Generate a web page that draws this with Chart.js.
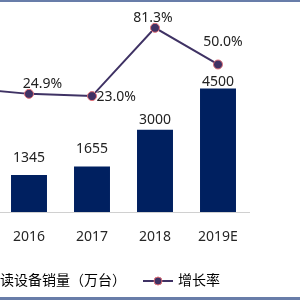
<!DOCTYPE html>
<html lang="zh-CN">
<head>
<meta charset="utf-8">
<title>Chart_Combo</title>
<script src="https://cdn.jsdelivr.net/npm/chart.js@4/dist/chart.umd.min.js"></script>
<style>
    body{margin:0;background:#fff;overflow:hidden;}
    #box{position:relative;width:300px;height:300px;overflow:hidden;background:#fff;}
    #chart-0{position:absolute;left:-127px;top:0;}
    .edge{position:absolute;left:0;width:300px;background:#687da9;}
</style>
</head>
<body>
<div id="box">
    <canvas id="chart-0" width="427" height="300"></canvas>
    <div class="edge" style="top:0;height:2px"></div>
    <div class="edge" style="bottom:0;height:3px"></div>
</div>
<script>
// data (first year sits outside the cropped view)
var years = ['2015', '2016', '2017', '2018', '2019E'];
var sales = [1077, 1345, 1655, 3000, 4500];
var growth = [30.0, 24.9, 23.0, 81.3, 50.0];
var salesName = '阅读设备销量（万台）';
var growthName = '增长率';

// label placement (px, relative to the mark)
var barLabelLift = [15, 17.5, 18, 10, 7];
var lineLabelDx = [0, 13.5, 24.3, -2, 5];
var lineLabelDy = [-12, -10, 1.3, -10, -22];

var navy = '#002060';
var purple = '#3f3264';
var ring = '#e07078';
var fontFamily = '"Noto Sans", "Noto Sans CJK SC", sans-serif';

Chart.defaults.font.family = fontFamily;
Chart.defaults.font.size = 14;

function icon(w, h, drawFn) {
    var c = document.createElement('canvas');
    c.width = w; c.height = h;
    drawFn(c.getContext('2d'));
    return c;
}
var barIcon = icon(26, 12, function(g){ g.fillStyle = navy; g.fillRect(0, 0, 26, 12); });
var lineIcon = icon(30, 10, function(g){
    g.strokeStyle = purple; g.lineWidth = 2;
    g.beginPath(); g.moveTo(0, 5); g.lineTo(30, 5); g.stroke();
    g.beginPath(); g.arc(15, 5, 4, 0, Math.PI * 2);
    g.fillStyle = purple; g.fill();
    g.lineWidth = 1; g.strokeStyle = ring; g.stroke();
});

var valueLabels = {
    id: 'valueLabels',
    afterDatasetsDraw: function(chart) {
        var ctx = chart.ctx;
        ctx.save();
        ctx.font = '14px ' + fontFamily;
        ctx.fillStyle = '#222';
        ctx.textAlign = 'center';
        ctx.textBaseline = 'middle';
        chart.getDatasetMeta(0).data.forEach(function(bar, i) {
            ctx.fillText(String(sales[i]), bar.x, bar.y - barLabelLift[i]);
        });
        chart.getDatasetMeta(1).data.forEach(function(pt, i) {
            ctx.fillText(growth[i].toFixed(1) + '%', pt.x + lineLabelDx[i], pt.y + lineLabelDy[i]);
        });
        ctx.restore();
    }
};

var chart = new Chart('chart-0', {
    type: 'bar',
    data: {
        labels: years,
        datasets: [{
            label: salesName,
            data: sales,
            backgroundColor: navy,
            yAxisID: 'y',
            categoryPercentage: 1,
            barPercentage: 0.571,
            order: 2
        }, {
            type: 'line',
            label: growthName,
            data: growth,
            yAxisID: 'y1',
            borderColor: purple,
            borderWidth: 2,
            pointRadius: 4.5,
            pointBackgroundColor: purple,
            pointBorderColor: ring,
            pointBorderWidth: 1,
            tension: 0,
            order: 1
        }]
    },
    options: {
        responsive: false,
        devicePixelRatio: 1,
        animation: false,
        layout: { padding: { top: 20, bottom: 2, left: 0, right: 0 } },
        plugins: {
            tooltip: { enabled: false },
            legend: {
                position: 'bottom',
                labels: {
                    usePointStyle: true,
                    pointStyleWidth: 26,
                    boxHeight: 14,
                    padding: 19,
                    color: '#222',
                    font: { size: 14 },
                    generateLabels: function() {
                        return [
                            { text: salesName, pointStyle: barIcon, fillStyle: navy, strokeStyle: navy, lineWidth: 0, hidden: false, datasetIndex: 0 },
                            { text: growthName, pointStyle: lineIcon, fillStyle: purple, strokeStyle: purple, lineWidth: 0, hidden: false, datasetIndex: 1 }
                        ];
                    }
                }
            }
        },
        scales: {
            x: {
                grid: { display: false, drawTicks: false },
                border: { display: true, color: '#d0d0d0', width: 1 },
                ticks: { color: '#262626', padding: 17, font: { size: 14 } },
                afterFit: function(s) { s.height = 43; }
            },
            y: {
                position: 'left',
                min: 0,
                max: 7000,
                grid: { display: false },
                border: { display: false },
                ticks: { display: false },
                afterFit: function(s) { s.width = 61.5; }
            },
            y1: {
                position: 'right',
                min: -76,
                max: 88,
                grid: { display: false },
                border: { display: false },
                ticks: { display: false },
                afterFit: function(s) { s.width = 50.5; }
            }
        }
    },
    plugins: [valueLabels]
});
</script>
</body>
</html>
